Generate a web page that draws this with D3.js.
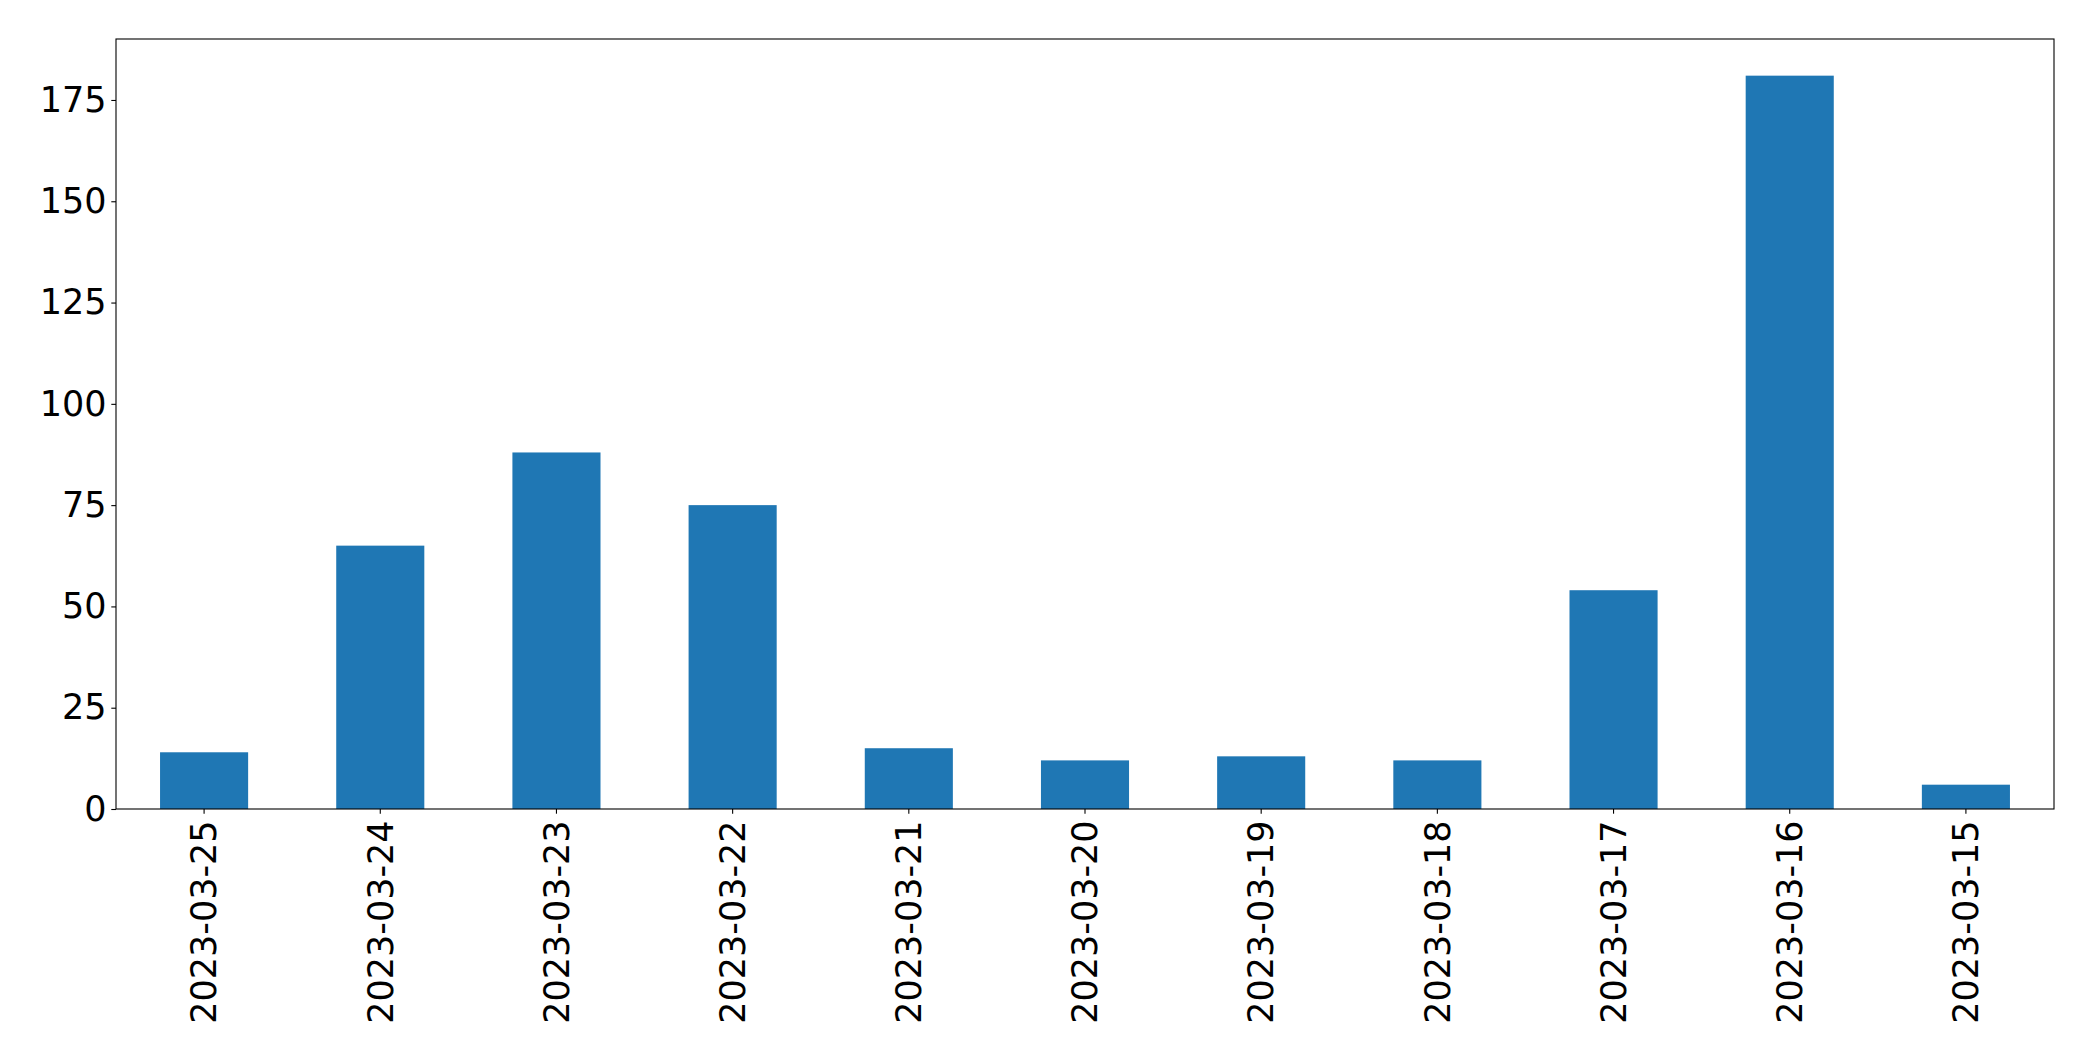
<!DOCTYPE html>
<html>
<head>
<meta charset="utf-8">
<script src="https://cdn.jsdelivr.net/npm/d3@7"></script>
<style>
  html, body { margin: 0; padding: 0; background: #fff; }
  svg { display: block; }
  text { font-family: "DejaVu Sans", sans-serif; }
</style>
</head>
<body>
<svg id="chart" width="2093" height="1061"></svg>
<script>
const categories = ["2023-03-25","2023-03-24","2023-03-23","2023-03-22","2023-03-21","2023-03-20","2023-03-19","2023-03-18","2023-03-17","2023-03-16","2023-03-15"];
const values = [14, 65, 88, 75, 15, 12, 13, 12, 54, 181, 6];
const yTicks = [0, 25, 50, 75, 100, 125, 150, 175];

const W = 2093, H = 1061;
const margin = {left: 116, top: 39, right: 2093 - 2054, bottom: 1061 - 809};
const svg = d3.select("#chart");

const x = d3.scaleBand()
  .domain(categories)
  .range([margin.left, W - margin.right])
  .paddingInner(0.5)
  .paddingOuter(0.25);

const yMax = d3.max(values) * 1.05;
const y = d3.scaleLinear()
  .domain([0, yMax])
  .range([H - margin.bottom, margin.top]);

svg.append("g")
  .selectAll("rect")
  .data(values)
  .join("rect")
  .attr("x", (d, i) => x(categories[i]))
  .attr("y", d => y(d))
  .attr("width", x.bandwidth())
  .attr("height", d => y(0) - y(d))
  .attr("fill", "#1f77b4");

const tickLen = 4.7, tickPad = 4.7, fs = 35;

const yAxis = svg.append("g")
  .attr("transform", `translate(${margin.left},0)`)
  .call(d3.axisLeft(y).tickValues(yTicks).tickSize(tickLen).tickPadding(tickPad).tickFormat(d3.format("d")));
yAxis.select(".domain").remove();
yAxis.selectAll("line").attr("stroke", "#000").attr("stroke-width", 1.1);
yAxis.selectAll("text").attr("font-size", fs).attr("fill", "#000").attr("font-family", "DejaVu Sans");

const xAxis = svg.append("g")
  .attr("transform", `translate(0,${H - margin.bottom})`)
  .call(d3.axisBottom(x).tickSize(tickLen).tickPadding(tickPad));
xAxis.select(".domain").remove();
xAxis.selectAll("line").attr("stroke", "#000").attr("stroke-width", 1.1);
xAxis.selectAll("text")
  .attr("font-size", fs)
  .attr("fill", "#000")
  .attr("font-family", "DejaVu Sans")
  .attr("text-anchor", "end")
  .attr("dy", "0.35em")
  .attr("x", 0)
  .attr("y", 0)
  .attr("transform", `translate(0,${tickLen + tickPad + 2}) rotate(-90)`);

svg.append("rect")
  .attr("x", margin.left)
  .attr("y", margin.top)
  .attr("width", W - margin.right - margin.left)
  .attr("height", H - margin.bottom - margin.top)
  .attr("fill", "none")
  .attr("stroke", "#000")
  .attr("stroke-width", 1.1);
</script>
</body>
</html>
